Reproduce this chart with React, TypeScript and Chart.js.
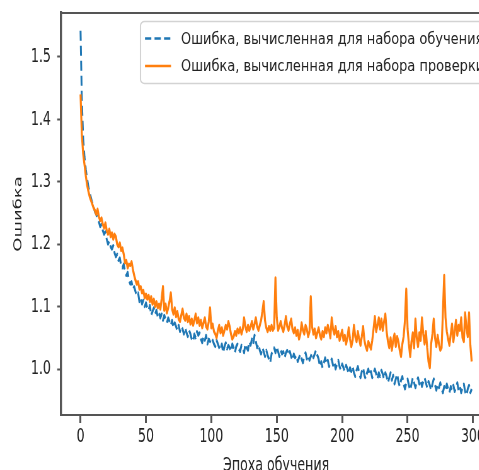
import { useEffect, useRef } from "react";
import { Chart, registerables } from "chart.js";

Chart.register(...registerables);

// ---- data ----
const trainLoss = [
  1.542, 1.43, 1.37, 1.34, 1.32, 1.305, 1.292, 1.282, 1.274, 1.266,
  1.26, 1.252, 1.248, 1.24, 1.236, 1.228, 1.232, 1.222, 1.216, 1.22,
  1.208, 1.2, 1.205, 1.196, 1.192, 1.198, 1.186, 1.18, 1.184, 1.174,
  1.178, 1.166, 1.162, 1.168, 1.156, 1.15, 1.155, 1.142, 1.136, 1.14,
  1.128, 1.132, 1.124, 1.118, 1.122, 1.108, 1.114, 1.104, 1.11, 1.1,
  1.106, 1.098, 1.094, 1.102, 1.086, 1.092, 1.098, 1.088, 1.094, 1.084,
  1.09, 1.082, 1.088, 1.078, 1.086, 1.08, 1.074, 1.082, 1.076, 1.07,
  1.078, 1.066, 1.074, 1.068, 1.062, 1.07, 1.06, 1.068, 1.064, 1.056,
  1.066, 1.058, 1.052, 1.062, 1.056, 1.048, 1.044, 1.056, 1.05, 1.06,
  1.054, 1.058, 1.048, 1.042, 1.052, 1.046, 1.054, 1.04, 1.048, 1.044,
  1.05, 1.046, 1.04, 1.036, 1.046, 1.04, 1.034, 1.03, 1.04, 1.026,
  1.036, 1.042, 1.032, 1.038, 1.034, 1.028, 1.04, 1.034, 1.026, 1.036,
  1.04, 1.032, 1.028, 1.038, 1.034, 1.026, 1.04, 1.034, 1.03, 1.044,
  1.038, 1.048, 1.04, 1.054, 1.044, 1.034, 1.04, 1.03, 1.024, 1.034,
  1.028, 1.02, 1.03, 1.022, 1.016, 1.01, 1.024, 1.03, 1.034, 1.026,
  1.036, 1.028, 1.02, 1.03, 1.024, 1.028, 1.018, 1.026, 1.03, 1.022,
  1.028, 1.02, 1.014, 1.024, 1.018, 1.022, 1.012, 1.018, 1.024, 1.016,
  1.01, 1.02, 1.026, 1.016, 1.022, 1.014, 1.02, 1.026, 1.018, 1.024,
  1.03, 1.022, 1.016, 1.004, 1.012, 1.002, 1.01, 1.018, 1.008, 1.014,
  1.004, 1.01, 1.016, 1.006, 1.012, 1.0, 1.008, 1.014, 1.004, 0.998,
  1.008, 1.002, 0.996, 1.006, 1.0, 0.992, 1.002, 0.996, 1.004, 0.994,
  0.988, 0.998, 1.004, 0.994, 0.986, 0.996, 1.002, 0.99, 0.984, 0.994,
  1.0, 0.99, 0.996, 0.986, 0.994, 1.0, 0.992, 0.984, 0.994, 0.988,
  0.998, 0.992, 0.984, 0.994, 0.988, 0.978, 0.986, 0.994, 0.982, 0.99,
  0.976, 0.984, 0.992, 0.98, 0.972, 0.982, 0.988, 0.976, 0.968, 0.978,
  0.984, 0.974, 0.966, 0.976, 0.986, 0.978, 0.97, 0.98, 0.986, 0.976,
  0.982, 0.972, 0.98, 0.986, 0.978, 0.97, 0.98, 0.974, 0.966, 0.976,
  0.984, 0.974, 0.966, 0.976, 0.97, 0.978, 0.968, 0.962, 0.972, 0.966,
  0.976, 0.968, 0.962, 0.972, 0.966, 0.974, 0.964, 0.97, 0.978, 0.966,
  0.972, 0.962, 0.97, 0.976, 0.964, 0.958, 0.968, 0.974, 0.962, 0.968,
];

const validLoss = [
  1.44, 1.375, 1.345, 1.328, 1.31, 1.295, 1.285, 1.276, 1.27, 1.264,
  1.258, 1.254, 1.248, 1.256, 1.244, 1.238, 1.242, 1.232, 1.226, 1.234,
  1.222, 1.216, 1.224, 1.212, 1.218, 1.208, 1.216, 1.212, 1.2, 1.196,
  1.202, 1.19, 1.194, 1.184, 1.17, 1.174, 1.162, 1.168, 1.166, 1.172,
  1.16, 1.15, 1.142, 1.136, 1.14, 1.128, 1.132, 1.122, 1.126, 1.114,
  1.12, 1.112, 1.118, 1.108, 1.116, 1.104, 1.112, 1.1, 1.108, 1.098,
  1.104, 1.096, 1.112, 1.132, 1.094, 1.104, 1.09, 1.098, 1.108, 1.122,
  1.096, 1.088, 1.098, 1.084, 1.092, 1.08, 1.076, 1.086, 1.096, 1.082,
  1.078, 1.088, 1.076, 1.084, 1.072, 1.08, 1.07, 1.078, 1.088, 1.074,
  1.082, 1.07, 1.078, 1.066, 1.074, 1.082, 1.068, 1.064, 1.076, 1.098,
  1.066, 1.072, 1.06, 1.056, 1.05, 1.062, 1.07, 1.058, 1.066, 1.054,
  1.062, 1.07, 1.064, 1.076, 1.068, 1.056, 1.048, 1.052, 1.06, 1.054,
  1.064, 1.058, 1.066, 1.056, 1.064, 1.082, 1.068, 1.06, 1.07, 1.062,
  1.068, 1.076, 1.064, 1.072, 1.082, 1.068, 1.062, 1.07, 1.078, 1.092,
  1.108, 1.078, 1.066, 1.06, 1.068, 1.062, 1.07, 1.062, 1.066, 1.146,
  1.082, 1.062, 1.068, 1.076, 1.066, 1.06, 1.07, 1.084, 1.068, 1.062,
  1.072, 1.08, 1.064, 1.058, 1.066, 1.054, 1.062, 1.048, 1.056, 1.074,
  1.062, 1.056, 1.07, 1.064, 1.052, 1.06, 1.116, 1.068, 1.056, 1.064,
  1.05, 1.058, 1.066, 1.054, 1.048, 1.06, 1.052, 1.066, 1.058, 1.07,
  1.062, 1.05, 1.082, 1.064, 1.056, 1.068, 1.052, 1.06, 1.046, 1.054,
  1.062, 1.046, 1.054, 1.04, 1.05, 1.066, 1.048, 1.036, 1.046, 1.07,
  1.052, 1.044, 1.06, 1.048, 1.038, 1.052, 1.068, 1.046, 1.036, 1.03,
  1.044, 1.038, 1.032, 1.046, 1.064, 1.084, 1.06, 1.07, 1.082, 1.064,
  1.08, 1.062, 1.076, 1.088, 1.06, 1.044, 1.034, 1.05, 1.03, 1.046,
  1.056, 1.036, 1.052, 1.044, 1.03, 1.02, 1.04, 1.052, 1.078, 1.128,
  1.064, 1.04, 1.02, 1.044, 1.058, 1.034, 1.08, 1.05, 1.036, 1.058,
  1.046, 1.082, 1.056, 1.04, 1.06, 1.034, 1.012, 1.002, 1.04, 1.056,
  1.08, 1.05, 1.036, 1.054, 1.04, 1.03, 1.034, 1.09, 1.15, 1.082,
  1.06, 1.048, 1.038, 1.056, 1.072, 1.044, 1.06, 1.078, 1.054, 1.07,
  1.062, 1.082, 1.05, 1.044, 1.09, 1.066, 1.052, 1.09, 1.038, 1.012,
];

const epochs = trainLoss.map((_, i) => i);
const xTicks = [0, 50, 100, 150, 200, 250, 300];
const yTicks = [1.0, 1.1, 1.2, 1.3, 1.4, 1.5];
const seriesLabels = [
  "Ошибка, вычисленная для набора обучения",
  "Ошибка, вычисленная для набора проверки",
];
const xTitle = "Эпоха обучения";
const yTitle = "Ошибка";

// ---- styling ----
const BLUE = "#1f77b4";
const ORANGE = "#ff7f0e";
const SPINE = "#555555";
const TEXT = "#222222";
const SX = 0.63; // horizontal squeeze of the reference figure
const W = 800;
const H = 490;
const FONT = "'DejaVu Sans', 'Noto Sans', sans-serif";

const mplPlugin = {
  id: "mplExtras",
  afterDraw(chart: any) {
    const ctx = chart.ctx as CanvasRenderingContext2D;
    const a = chart.chartArea;
    // top spine
    ctx.save();
    ctx.strokeStyle = SPINE;
    ctx.lineWidth = 2;
    ctx.beginPath();
    ctx.moveTo(a.left, a.top);
    ctx.lineTo(a.right + 2, a.top);
    ctx.stroke();
    ctx.restore();

    // legend, drawn in screen units
    ctx.save();
    ctx.scale(1 / SX, 1);
    ctx.beginPath();
    (ctx as any).roundRect(140.5, 21.5, 420, 62, 4);
    ctx.fillStyle = "rgba(255,255,255,0.85)";
    ctx.fill();
    ctx.strokeStyle = "#d3d3d3";
    ctx.lineWidth = 1.3;
    ctx.stroke();

    const rows = [
      { color: BLUE, dash: [6.3, 3.2], y: 38.5 },
      { color: ORANGE, dash: [] as number[], y: 66 },
    ];
    rows.forEach((r, i) => {
      ctx.save();
      ctx.strokeStyle = r.color;
      ctx.lineWidth = 2.6;
      ctx.setLineDash(r.dash);
      ctx.beginPath();
      ctx.moveTo(145, r.y);
      ctx.lineTo(171, r.y);
      ctx.stroke();
      ctx.restore();

      ctx.save();
      ctx.translate(181, r.y + 5);
      ctx.scale(0.81, 1);
      ctx.font = `16px ${FONT}`;
      ctx.fillStyle = TEXT;
      ctx.textBaseline = "alphabetic";
      ctx.textAlign = "left";
      ctx.fillText(seriesLabels[i], 0, 0);
      ctx.restore();
    });
    ctx.restore();
  },
};

export default function App() {
  const ref = useRef<HTMLCanvasElement | null>(null);

  useEffect(() => {
    if (!ref.current) return;
    Chart.defaults.font.family = FONT;
    const chart = new Chart(ref.current, {
      type: "line",
      data: {
        labels: epochs,
        datasets: [
          {
            label: seriesLabels[0],
            data: trainLoss,
            borderColor: BLUE,
            backgroundColor: BLUE,
            borderWidth: 3,
            borderDash: [10, 5],
            borderJoinStyle: "round",
            pointRadius: 0,
            tension: 0,
            order: 1,
          },
          {
            label: seriesLabels[1],
            data: validLoss,
            borderColor: ORANGE,
            backgroundColor: ORANGE,
            borderWidth: 3.2,
            borderJoinStyle: "round",
            pointRadius: 0,
            tension: 0,
            order: 0,
          },
        ],
      },
      options: {
        responsive: false,
        animation: false,
        devicePixelRatio: 1,
        layout: { padding: { top: 13, right: 20.3, bottom: 0, left: 0 } },
        plugins: {
          legend: { display: false },
          tooltip: { enabled: false },
          title: { display: false },
        },
        scales: {
          x: {
            type: "linear",
            min: -14.95,
            max: 313.95,
            afterBuildTicks: (s: any) => {
              s.ticks = xTicks.map((v) => ({ value: v }));
            },
            afterFit: (s: any) => {
              s.height = H - 415;
              s.paddingLeft = 0;
              s.paddingRight = 0;
            },
            grid: {
              display: true,
              drawOnChartArea: false,
              drawTicks: true,
              tickLength: 8,
              tickWidth: 3,
              tickColor: SPINE,
            },
            border: { display: true, color: SPINE, width: 2 },
            ticks: {
              font: { size: 20 },
              color: TEXT,
              padding: 2,
              maxRotation: 0,
              autoSkip: false,
              callback: (v: any) => String(v),
            },
            title: {
              display: true,
              text: xTitle,
              font: { size: 20 },
              color: TEXT,
              padding: { top: 0, bottom: 12 },
            },
          },
          y: {
            type: "linear",
            min: 0.9263,
            max: 1.5705,
            afterBuildTicks: (s: any) => {
              s.ticks = yTicks.map((v) => ({ value: v }));
            },
            afterFit: (s: any) => {
              s.width = 96.8;
              s.paddingTop = 0;
              s.paddingBottom = 0;
            },
            grid: {
              display: true,
              drawOnChartArea: false,
              drawTicks: true,
              tickLength: 6,
              tickWidth: 2,
              tickColor: SPINE,
            },
            border: { display: true, color: SPINE, width: 3.4 },
            ticks: {
              font: { size: 20 },
              color: TEXT,
              padding: 10,
              autoSkip: false,
              callback: (v: any) => Number(v).toFixed(1),
            },
            title: {
              display: true,
              text: yTitle,
              font: { size: 18 },
              color: TEXT,
              padding: { top: 19, bottom: 0 },
            },
          },
        },
      },
      plugins: [mplPlugin],
    });
    return () => chart.destroy();
  }, []);

  return (
    <div
      style={{
        position: "absolute",
        left: 0,
        top: 0,
        width: 479,
        height: 470,
        overflow: "hidden",
        background: "#fff",
      }}
    >
      <canvas
        ref={ref}
        width={W}
        height={H}
        style={{ width: `${W * SX}px`, height: `${H}px`, display: "block" }}
      />
    </div>
  );
}
